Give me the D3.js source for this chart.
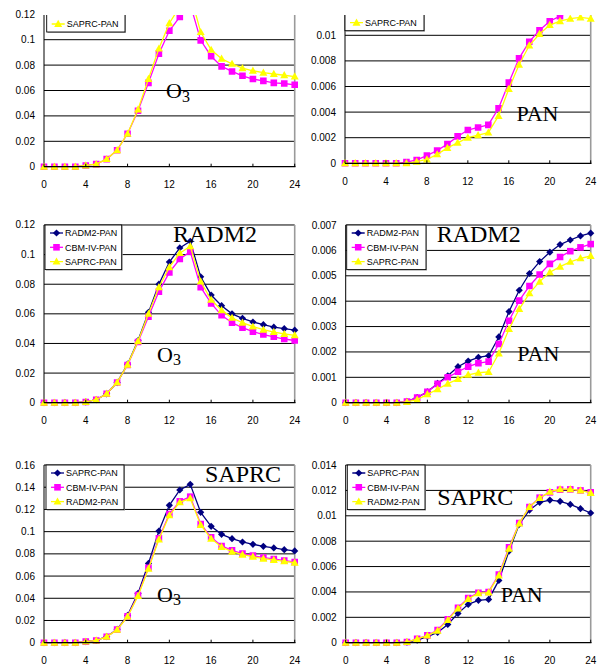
<!DOCTYPE html>
<html>
<head>
<meta charset="utf-8">
<script src="https://cdn.jsdelivr.net/npm/d3@7"></script>
<style>
  body { margin: 0; background: #fff; }
  svg { display: block; }
  .tick-label { font-family: "Liberation Sans", Arial, sans-serif; font-size: 10px; fill: #000; }
  .legend-label { font-family: "Liberation Sans", Arial, sans-serif; font-size: 9px; fill: #000; }
  .serif { font-family: "Liberation Serif", "Times New Roman", serif; fill: #000; }
</style>
</head>
<body>
<svg id="chart" width="599" height="667"></svg>
<script>
// hours of the day (x axis)
const hours = [0,1,2,3,4,5,6,7,8,9,10,11,12,13,14,15,16,17,18,19,20,21,22,23,24];
const xTicks = [0,4,8,12,16,20,24];

// ---- row 1 (top) ----
const r1O3Cbm   = [0,0,0,0,0.001,0.002,0.006,0.013,0.026,0.044,0.066,0.089,0.107,0.118,0.128,0.0995,0.087,0.079,0.075,0.0716,0.069,0.0676,0.066,0.0655,0.0645];
const r1O3Saprc = [0,0,0,0,0.001,0.002,0.006,0.013,0.026,0.045,0.069,0.093,0.113,0.126,0.136,0.106,0.092,0.085,0.081,0.0776,0.0755,0.074,0.073,0.072,0.071];
const r1PanCbm   = [0,0,0,0,0,0,0.0001,0.00026,0.0006,0.001,0.0015,0.0021,0.0026,0.0028,0.003,0.0043,0.0063,0.0082,0.0095,0.0104,0.0111,0.0115,0.0119,0.0121,0.0122];
const r1PanSaprc = [0,0,0,0,0,0,0,0.00013,0.0003,0.0007,0.0012,0.0016,0.002,0.0022,0.0024,0.0037,0.0058,0.0077,0.0092,0.0101,0.0108,0.0111,0.0113,0.0114,0.0113];

// ---- row 2 (middle, RADM2) ----
const r2O3Radm  = [0,0,0,0,0.0005,0.002,0.006,0.0136,0.026,0.042,0.061,0.08,0.095,0.1045,0.109,0.085,0.0727,0.0655,0.06,0.057,0.0545,0.0527,0.051,0.05,0.049];
const r2O3Cbm   = [0,0,0,0,0.0005,0.002,0.006,0.0136,0.0255,0.041,0.058,0.075,0.088,0.097,0.102,0.078,0.067,0.059,0.054,0.0507,0.048,0.046,0.0445,0.043,0.042];
const r2O3Saprc = [0,0,0,0,0.0005,0.002,0.006,0.0136,0.0257,0.0415,0.06,0.078,0.0915,0.101,0.1057,0.0818,0.0695,0.0625,0.0573,0.054,0.0514,0.0493,0.0477,0.0464,0.0455];
const r2PanRadm  = [0,0,0,0,0,0,0.00005,0.0002,0.00043,0.00076,0.00106,0.00142,0.00164,0.00179,0.00185,0.00259,0.00359,0.00443,0.00509,0.00556,0.00593,0.00623,0.00641,0.00657,0.00668];
const r2PanCbm   = [0,0,0,0,0,0,0.00005,0.0002,0.00043,0.00074,0.001,0.00122,0.00142,0.00156,0.00162,0.00231,0.00323,0.00402,0.0046,0.00505,0.00547,0.00574,0.00597,0.00612,0.00625];
const r2PanSaprc = [0,0,0,0,0,0,0.00003,0.00012,0.00033,0.00053,0.00075,0.00093,0.0011,0.00118,0.00121,0.00194,0.0029,0.00369,0.00431,0.00477,0.00514,0.00536,0.00555,0.00569,0.00578];

// ---- row 3 (bottom, SAPRC) ----
const r3O3Saprc = [0,0,0,0,0.001,0.002,0.0054,0.012,0.0246,0.0444,0.0714,0.1006,0.1237,0.1375,0.1426,0.1174,0.1048,0.0976,0.0937,0.0907,0.0886,0.0868,0.0853,0.0838,0.0826];
const r3O3Cbm   = [0,0,0,0,0.001,0.002,0.0054,0.0118,0.0237,0.043,0.0675,0.094,0.1159,0.1273,0.1315,0.1069,0.0949,0.0871,0.0832,0.0802,0.0784,0.0766,0.0754,0.0739,0.0727];
const r3O3Radm  = [0,0,0,0,0.001,0.002,0.0053,0.0117,0.0235,0.042,0.0666,0.093,0.1147,0.1264,0.13,0.106,0.0937,0.0862,0.082,0.0793,0.0775,0.0757,0.0745,0.0733,0.072];
const r3PanSaprc = [0,0,0,0,0,0,0.00005,0.0002,0.00047,0.00081,0.00144,0.00231,0.00302,0.00334,0.00341,0.00491,0.00722,0.00933,0.01045,0.01106,0.01124,0.01114,0.0109,0.01056,0.01022];
const r3PanCbm   = [0,0,0,0,0,0,0.00005,0.0003,0.00058,0.001,0.00184,0.00276,0.00352,0.00394,0.004,0.00538,0.00751,0.00943,0.01069,0.01143,0.01185,0.01206,0.01208,0.012,0.01185];
const r3PanRadm  = [0,0,0,0,0,0,0.00005,0.0003,0.00056,0.00095,0.00178,0.0027,0.00345,0.0039,0.00395,0.0053,0.0074,0.0094,0.0107,0.0114,0.0119,0.0121,0.0121,0.012,0.0118];

const NAVY = '#000080', MAGENTA = '#ff00ff', YELLOW = '#ffff00';

const markerPaths = {
    diamond: 'M0,-3.6L3.6,0L0,3.6L-3.6,0Z',
    square: 'M-3.3,-3.3H3.3V3.3H-3.3Z',
    triangle: 'M0,-4.2L4,3L-4,3Z'
};

const panels = [
    { x0: 44, x1: 294.7, y0: 166.7, yMax: 0.14, step: 0.02, pxPerStep: 25.4, clipTop: 15, xLabelY: 184,
      legend: { x: 46.7, y: 1.7, w: 78.3 },
      series: [{ name: 'CBM-IV-PAN', data: r1O3Cbm, color: MAGENTA, marker: 'square' },
               { name: 'SAPRC-PAN', data: r1O3Saprc, color: YELLOW, marker: 'triangle' }],
      species: { text: 'O', sub: '3', x: 166, y: 98.3 } },
    { x0: 345, x1: 590.7, y0: 163.3, yMax: 0.014, step: 0.002, pxPerStep: 25.6, clipTop: 15, xLabelY: 181.7,
      legend: { x: 345, y: 0.4, w: 79 },
      series: [{ name: 'CBM-IV-PAN', data: r1PanCbm, color: MAGENTA, marker: 'square' },
               { name: 'SAPRC-PAN', data: r1PanSaprc, color: YELLOW, marker: 'triangle' }],
      species: { text: 'PAN', x: 516.5, y: 120.5 } },
    { x0: 44, x1: 294.7, y0: 402.7, yMax: 0.12, step: 0.02, pxPerStep: 29.62, xLabelY: 420.7,
      legend: { x: 45, y: 225, w: 76.7 },
      series: [{ name: 'RADM2-PAN', data: r2O3Radm, color: NAVY, marker: 'diamond' },
               { name: 'CBM-IV-PAN', data: r2O3Cbm, color: MAGENTA, marker: 'square' },
               { name: 'SAPRC-PAN', data: r2O3Saprc, color: YELLOW, marker: 'triangle' }],
      species: { text: 'O', sub: '3', x: 157, y: 361.7 },
      title: { text: 'RADM2', x: 173, y: 241.7 } },
    { x0: 345.7, x1: 590.7, y0: 402.7, yMax: 0.007, step: 0.001, pxPerStep: 25.38, xLabelY: 420.7,
      legend: { x: 346.7, y: 225, w: 79.3 },
      series: [{ name: 'RADM2-PAN', data: r2PanRadm, color: NAVY, marker: 'diamond' },
               { name: 'CBM-IV-PAN', data: r2PanCbm, color: MAGENTA, marker: 'square' },
               { name: 'SAPRC-PAN', data: r2PanSaprc, color: YELLOW, marker: 'triangle' }],
      species: { text: 'PAN', x: 517.3, y: 360.7 },
      title: { text: 'RADM2', x: 436.7, y: 241.7 } },
    { x0: 44, x1: 294.7, y0: 642.7, yMax: 0.16, step: 0.02, pxPerStep: 22.21, xLabelY: 660,
      legend: { x: 46, y: 465, w: 78 },
      series: [{ name: 'SAPRC-PAN', data: r3O3Saprc, color: NAVY, marker: 'diamond' },
               { name: 'CBM-IV-PAN', data: r3O3Cbm, color: MAGENTA, marker: 'square' },
               { name: 'RADM2-PAN', data: r3O3Radm, color: YELLOW, marker: 'triangle' }],
      species: { text: 'O', sub: '3', x: 157, y: 601.7 },
      title: { text: 'SAPRC', x: 205, y: 481.7 } },
    { x0: 345.7, x1: 590.7, y0: 642.7, yMax: 0.014, step: 0.002, pxPerStep: 25.38, xLabelY: 660,
      legend: { x: 347.3, y: 465, w: 77.7 },
      series: [{ name: 'SAPRC-PAN', data: r3PanSaprc, color: NAVY, marker: 'diamond' },
               { name: 'CBM-IV-PAN', data: r3PanCbm, color: MAGENTA, marker: 'square' },
               { name: 'RADM2-PAN', data: r3PanRadm, color: YELLOW, marker: 'triangle' }],
      species: { text: 'PAN', x: 500.7, y: 601.7 },
      title: { text: 'SAPRC', x: 437.3, y: 505 } }
];

const svg = d3.select('#chart');
const defs = svg.append('defs');

panels.forEach((p, i) => {
    const nSteps = Math.round(p.yMax / p.step);
    const yTop = p.y0 - nSteps * p.pxPerStep;
    const x = d3.scaleLinear().domain([0, 24]).range([p.x0, p.x1]);
    const y = d3.scaleLinear().domain([0, p.yMax]).range([p.y0, yTop]);
    const yTicks = d3.range(0, nSteps + 1).map(k => +(k * p.step).toFixed(4));

    // clip for top row (picture is cut at the top)
    const clipTop = p.clipTop !== undefined ? p.clipTop : -100;
    defs.append('clipPath').attr('id', 'clip' + i)
        .append('rect')
        .attr('x', p.x0 - 20).attr('y', clipTop)
        .attr('width', p.x1 - p.x0 + 40).attr('height', p.y0 - clipTop + 10);

    const g = svg.append('g');
    const plot = g.append('g').attr('clip-path', `url(#clip${i})`);

    // gridlines
    plot.selectAll('.grid')
        .data(yTicks.filter(t => t > 0))
        .join('line')
        .attr('x1', p.x0).attr('x2', p.x1)
        .attr('y1', d => y(d)).attr('y2', d => y(d))
        .attr('stroke', '#000').attr('stroke-width', 1);

    // right border
    plot.append('line')
        .attr('x1', p.x1).attr('x2', p.x1)
        .attr('y1', yTop).attr('y2', p.y0)
        .attr('stroke', '#9a9a9a').attr('stroke-width', 1.6);

    // axes
    plot.append('line')
        .attr('x1', p.x0).attr('x2', p.x0)
        .attr('y1', yTop).attr('y2', p.y0)
        .attr('stroke', '#000').attr('stroke-width', 1);
    g.append('line')
        .attr('x1', p.x0).attr('x2', p.x1 + 0.8)
        .attr('y1', p.y0).attr('y2', p.y0)
        .attr('stroke', '#000').attr('stroke-width', 1.2);
    g.selectAll('.xtick')
        .data(xTicks)
        .join('line')
        .attr('x1', d => x(d)).attr('x2', d => x(d))
        .attr('y1', p.y0).attr('y2', p.y0 - 3)
        .attr('stroke', '#000').attr('stroke-width', 1);

    // tick labels
    g.selectAll('.ylab')
        .data(yTicks.filter(t => y(t) > 12))
        .join('text')
        .attr('class', 'tick-label')
        .attr('x', p.x0 - 9)
        .attr('y', d => y(d) + 3.5)
        .attr('text-anchor', 'end')
        .text(d => String(d));
    g.selectAll('.xlab')
        .data(xTicks)
        .join('text')
        .attr('class', 'tick-label')
        .attr('x', d => x(d))
        .attr('y', p.xLabelY + 3.5)
        .attr('text-anchor', 'middle')
        .text(d => d);

    // series
    const line = d3.line().x((d, k) => x(hours[k])).y(d => y(d));
    p.series.forEach(s => {
        plot.append('path')
            .datum(s.data)
            .attr('d', line)
            .attr('fill', 'none')
            .attr('stroke', s.color)
            .attr('stroke-width', 1.3);
        plot.selectAll(null)
            .data(s.data)
            .join('path')
            .attr('d', markerPaths[s.marker])
            .attr('transform', (d, k) => `translate(${x(hours[k])},${y(d)})`)
            .attr('fill', s.color);
    });

    // legend
    const lg = plot.append('g').attr('transform', `translate(${p.legend.x},${p.legend.y})`);
    const lh = 8 + 14.3 * (p.series.length - 1) + 8;
    lg.append('rect')
        .attr('x', 1).attr('y', 1).attr('width', p.legend.w).attr('height', lh)
        .attr('fill', '#b0b0b0');
    lg.append('rect')
        .attr('width', p.legend.w).attr('height', lh)
        .attr('fill', '#fff').attr('stroke', '#000').attr('stroke-width', 0.9);
    p.series.forEach((s, k) => {
        const ly = 8 + 14.3 * k;
        lg.append('line')
            .attr('x1', 5).attr('x2', 18).attr('y1', ly).attr('y2', ly)
            .attr('stroke', s.color).attr('stroke-width', 1.3);
        lg.append('path')
            .attr('d', markerPaths[s.marker])
            .attr('transform', `translate(11.5,${ly})`)
            .attr('fill', s.color);
        lg.append('text')
            .attr('class', 'legend-label')
            .attr('x', 20).attr('y', ly + 3.2)
            .text(s.name);
    });

    // species label
    const sp = g.append('text').attr('class', 'serif')
        .attr('x', p.species.x).attr('y', p.species.y)
        .style('font-size', '22px')
        .text(p.species.text);
    if (p.species.sub) {
        sp.append('tspan').attr('dy', 3.4).style('font-size', '16px').text(p.species.sub);
    }

    // model title
    if (p.title) {
        g.append('text').attr('class', 'serif')
            .attr('x', p.title.x).attr('y', p.title.y)
            .style('font-size', '24px')
            .text(p.title.text);
    }
});
</script>
</body>
</html>
